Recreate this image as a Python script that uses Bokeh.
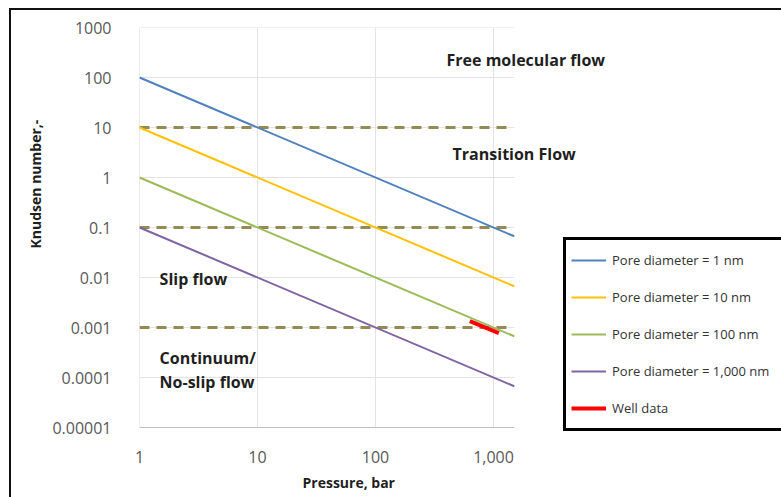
from bokeh.plotting import figure
from bokeh.models import (Range1d, FixedTicker, Legend, LegendItem, Label,
                          Title, InlineStyleSheet)
from bokeh.embed import file_html
from bokeh.resources import INLINE

# ---- data ----
pressure = [1, 1500]
kn_1nm = [100, 0.0667]
kn_10nm = [10, 0.00667]
kn_100nm = [1, 0.000667]
kn_1000nm = [0.1, 0.0000667]
regime_pressure = [1, 1300]
regime_bounds = [10, 0.1, 0.001]
well_pressure = [630, 1110]
well_kn = [0.00134, 0.00077]

series_names = ["Pore diameter = 1 nm", "Pore diameter = 10 nm",
                "Pore diameter = 100 nm", "Pore diameter = 1,000 nm"]
series_values = [kn_1nm, kn_10nm, kn_100nm, kn_1000nm]
series_colors = ["#4F81BD", "#FFC000", "#9BBB59", "#8064A2"]

y_ticks = [1e-5, 1e-4, 1e-3, 1e-2, 1e-1, 1, 10, 100, 1000]
y_tick_labels = ["0.00001", "0.0001", "0.001", "0.01", "0.1", "1", "10", "100", "1000"]
x_ticks = [1, 10, 100, 1000]
x_tick_labels = ["1", "10", "100", "1,000"]
x_min, x_max = 1, 1500
y_min, y_max = 1e-5, 1000

regions = [("Free molecular flow", 400, 220),
           ("Transition Flow", 450, 3.0),
           ("Slip flow", 1.48, 0.0095),
           ("Continuum/", 1.48, 2.5e-4),
           ("No-slip flow", 1.48, 8.3e-5)]

FONT = "Open Sans"

# frame spans 139..781 px horizontally and 27..440 px vertically;
# one decade = 118 px (x) and 50 px (y)
x_view_end = 10 ** ((781 - 139) / 118)
y_view_start = 10 ** (3 - (440 - 27) / 50)

p = figure(width=781, height=497, x_axis_type="log", y_axis_type="log",
           x_range=Range1d(x_min, x_view_end), y_range=Range1d(y_view_start, y_max),
           output_backend="svg", toolbar_location=None,
           min_border_left=139, min_border_right=0,
           min_border_top=27, min_border_bottom=57)
p.outline_line_color = None
p.background_fill_color = "white"
p.border_fill_color = "white"
p.xgrid.visible = False
p.ygrid.visible = False

# axes (tick labels only; axis lines drawn below at the plot area edges)
p.xaxis.ticker = FixedTicker(ticks=x_ticks)
p.yaxis.ticker = FixedTicker(ticks=y_ticks)
p.xaxis.major_label_overrides = {t: l for t, l in zip(x_ticks, x_tick_labels)}
p.yaxis.major_label_overrides = {t: l for t, l in zip(y_ticks, y_tick_labels)}
for ax in (p.xaxis, p.yaxis):
    ax.major_tick_line_color = None
    ax.minor_tick_line_color = None
    ax.axis_line_color = None
    ax.major_label_text_font = FONT
    ax.major_label_text_font_size = "16px"
    ax.major_label_text_color = "#595959"
p.yaxis.major_label_standoff = 22
p.xaxis.major_label_standoff = 4

# gridlines and axis lines limited to the plotted area
p.segment(x0=x_ticks[1:], x1=x_ticks[1:], y0=[y_min] * 3, y1=[y_max] * 3,
          line_color="#E3E3E3", line_width=1)
p.segment(x0=[x_min] * 8, x1=[x_max] * 8, y0=y_ticks[1:], y1=y_ticks[1:],
          line_color="#E3E3E3", line_width=1)
p.segment(x0=[x_min], x1=[x_min], y0=[y_min], y1=[y_max], line_color="#D9D9D9", line_width=1)
p.segment(x0=[x_min], x1=[x_max], y0=[y_min], y1=[y_min], line_color="#BFBFBF", line_width=1)

# regime boundaries
for b in regime_bounds:
    p.line(regime_pressure, [b, b], line_color="#948A54", line_width=3,
           line_dash="10 7")

items = []
for name, vals, col in zip(series_names, series_values, series_colors):
    r = p.line(pressure, vals, line_color=col, line_width=2)
    items.append(LegendItem(label=name, renderers=[r]))
rw = p.line(well_pressure, well_kn, line_color="#FF0000", line_width=4)
items.append(LegendItem(label="Well data", renderers=[rw]))

legend = Legend(items=items, location=(424, 9), margin=0, padding=5,
                glyph_width=35, glyph_height=30, label_height=30,
                label_width=220, spacing=7, label_standoff=6,
                label_text_font=FONT, label_text_font_size="13px",
                label_text_color="#333333", border_line_color="black",
                border_line_alpha=1, border_line_width=3,
                background_fill_color="white", background_fill_alpha=1)
p.add_layout(legend, "center")

for txt, x, y in regions:
    p.add_layout(Label(x=x, y=y, text=txt, text_font=FONT, text_font_style="bold",
                       text_font_size="16px", text_color="#1F1F1F",
                       text_baseline="middle", text_align="left"))

# axis titles
p.add_layout(Title(text="Knudsen number,-", align="left", offset=192,
                   text_font=FONT, text_font_style="bold", text_font_size="14px",
                   text_color="#1F1F1F"), "left")
p.add_layout(Title(text="Pressure, bar", align="left", offset=163,
                   text_font=FONT, text_font_style="bold", text_font_size="14px",
                   text_color="#1F1F1F"), "below")

# outer chart border (top and left edges visible in the picture)
p.stylesheets = [InlineStyleSheet(css=(
    ":host::after{content:'';position:absolute;left:9px;top:8px;right:0;bottom:0;"
    "border-top:2px solid #111;border-left:2px solid #111;pointer-events:none;z-index:10;}"))]

open("out.html", "w").write(file_html(p, INLINE))
